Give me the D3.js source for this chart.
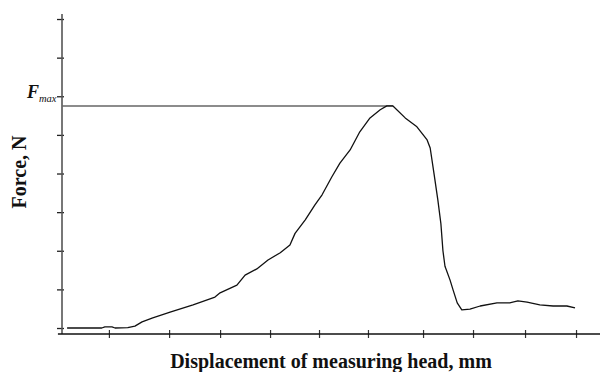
<!DOCTYPE html>
<html>
<head>
<meta charset="utf-8">
<script src="https://cdn.jsdelivr.net/npm/d3@7"></script>
<style>
  html, body { margin: 0; padding: 0; background: #fff; }
  svg { display: block; }
</style>
</head>
<body>
<svg id="chart" width="601" height="372"></svg>
<script>
// ---- data ----
const displacement = [0.10, 0.78, 0.84, 0.98, 1.04, 1.29, 1.43, 1.57, 1.78, 2.12, 2.57, 3.00, 3.10, 3.43, 3.59, 3.82, 4.04, 4.28, 4.47, 4.57, 4.77, 4.96, 5.10, 5.29, 5.45, 5.65, 5.84, 6.04, 6.24, 6.37, 6.49, 6.73, 6.96, 7.16, 7.22, 7.30, 7.37, 7.43, 7.47, 7.51, 7.61, 7.67, 7.75, 7.84, 8.00, 8.20, 8.53, 8.78, 8.94, 9.12, 9.37, 9.63, 9.90, 10.06];
const force        = [0.00, 0.00, 0.03, 0.03, 0.00, 0.01, 0.05, 0.16, 0.26, 0.41, 0.60, 0.80, 0.91, 1.11, 1.37, 1.53, 1.76, 1.95, 2.15, 2.45, 2.80, 3.19, 3.45, 3.91, 4.27, 4.61, 5.08, 5.44, 5.65, 5.75, 5.75, 5.44, 5.21, 4.87, 4.66, 3.95, 3.32, 2.70, 2.00, 1.60, 1.24, 0.98, 0.65, 0.47, 0.49, 0.57, 0.65, 0.65, 0.70, 0.67, 0.60, 0.57, 0.57, 0.52];
const fMax = 5.75;
const fMaxAt = 6.49;
const xTickValues = [0.92, 2.10, 3.10, 4.08, 5.04, 6.00, 7.08, 8.06, 9.08, 10.08];
const yTickValues = [0, 1, 2, 3, 4, 5, 6, 7, 8];
const xLabel = "Displacement of measuring head, mm";
const yLabel = "Force, N";

// ---- scales ----
const svg = d3.select("#chart");
const x = d3.scaleLinear().domain([0, 10.55]).range([62, 600]);
const y = d3.scaleLinear().domain([-0.155, 8.13]).range([334, 14]);

// ---- y axis ----
const yAxis = svg.append("g")
  .attr("transform", `translate(${x(0)},0)`)
  .call(d3.axisLeft(y).tickValues(yTickValues).tickSize(5).tickFormat(""));
yAxis.select(".domain").remove();
yAxis.selectAll(".tick line").attr("x1", 2).attr("x2", -5)
  .attr("stroke", "#222").attr("stroke-width", 1.3);
svg.append("line")
  .attr("x1", x(0)).attr("x2", x(0))
  .attr("y1", y(8.13)).attr("y2", y(-0.155))
  .attr("stroke", "#555").attr("stroke-width", 1.6);

// ---- x axis ----
const xAxis = svg.append("g")
  .attr("transform", `translate(0,${y(-0.155)})`)
  .call(d3.axisBottom(x).tickValues(xTickValues).tickSize(4).tickFormat(""));
xAxis.select(".domain").remove();
xAxis.selectAll(".tick line").attr("y1", -4).attr("y2", 4)
  .attr("stroke", "#333").attr("stroke-width", 1.2);
svg.append("line")
  .attr("x1", x(-0.08)).attr("x2", x(10.55))
  .attr("y1", y(-0.155)).attr("y2", y(-0.155))
  .attr("stroke", "#111").attr("stroke-width", 1.5);

// ---- Fmax reference line ----
svg.append("line")
  .attr("x1", x(0)).attr("x2", x(fMaxAt))
  .attr("y1", y(fMax)).attr("y2", y(fMax))
  .attr("stroke", "#666").attr("stroke-width", 1.4);

// ---- curve ----
const pts = displacement.map((d, i) => [d, force[i]]);
svg.append("path")
  .datum(pts)
  .attr("fill", "none")
  .attr("stroke", "#111")
  .attr("stroke-width", 1.3)
  .attr("stroke-linejoin", "round")
  .attr("d", d3.line().x(d => x(d[0])).y(d => y(d[1])));

// ---- labels ----
const fm = svg.append("text")
  .attr("x", 27).attr("y", y(fMax) - 8)
  .attr("font-family", "Liberation Serif, Times New Roman, serif")
  .attr("fill", "#111");
fm.append("tspan").attr("font-size", 18).attr("font-weight", "bold").attr("font-style", "italic").text("F");
fm.append("tspan").attr("font-size", 10.5).attr("font-style", "italic").attr("dy", 4).text("max");

svg.append("text")
  .attr("x", 331).attr("y", 368)
  .attr("text-anchor", "middle")
  .attr("font-family", "Liberation Serif, Times New Roman, serif")
  .attr("font-weight", "bold").attr("font-size", 20)
  .attr("fill", "#111")
  .text(xLabel);

svg.append("text")
  .attr("transform", `translate(26,172) rotate(-90)`)
  .attr("text-anchor", "middle")
  .attr("font-family", "Liberation Serif, Times New Roman, serif")
  .attr("font-weight", "bold").attr("font-size", 20)
  .attr("fill", "#111")
  .text(yLabel);
</script>
</body>
</html>
